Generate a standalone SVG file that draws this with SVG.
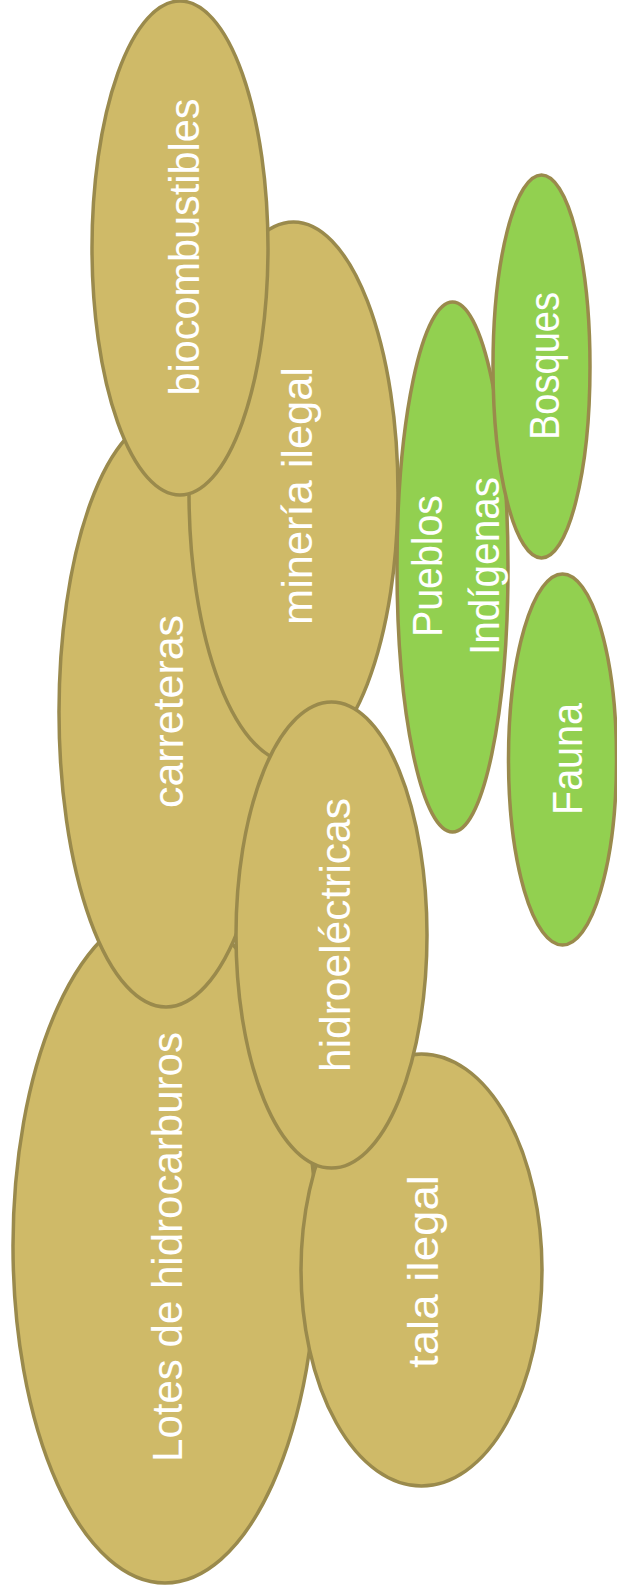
<svg xmlns="http://www.w3.org/2000/svg" width="617" height="1596" viewBox="0 0 617 1596">
<style>
.tan{fill:#CFBA68;stroke:#9A8A4C;stroke-width:3.5}
.grn{fill:#92D050;stroke:#9A8A4C;stroke-width:3.5}
.lbl{font-family:"Liberation Sans",Arial,sans-serif;font-size:42px;fill:#FFFFFF;text-anchor:middle}
</style>
<rect width="617" height="1596" fill="#FFFFFF"/>
<g id="connectors"></g>
<g id="lotes">
<ellipse class="tan" cx="165" cy="1246" rx="152" ry="337"/>
<text class="lbl" transform="translate(182,1247) rotate(-90)" textLength="430" lengthAdjust="spacingAndGlyphs">Lotes de hidrocarburos</text>
</g>
<g id="tala">
<ellipse class="tan" cx="421.5" cy="1270" rx="120.5" ry="216"/>
<text class="lbl" transform="translate(438,1271.5) rotate(-90)" textLength="193" lengthAdjust="spacingAndGlyphs">tala ilegal</text>
</g>
<g id="carreteras">
<ellipse class="tan" cx="166" cy="712" rx="107" ry="295"/>
<text class="lbl" transform="translate(183,711.5) rotate(-90)" textLength="193" lengthAdjust="spacingAndGlyphs">carreteras</text>
</g>
<g id="mineria">
<ellipse class="tan" cx="293.5" cy="492.5" rx="104.5" ry="270.5"/>
<text class="lbl" transform="translate(312,496) rotate(-90)" textLength="258" lengthAdjust="spacingAndGlyphs">minería ilegal</text>
</g>
<g id="biocombustibles">
<ellipse class="tan" cx="180" cy="248" rx="88" ry="247"/>
<text class="lbl" transform="translate(199,247) rotate(-90)" textLength="297" lengthAdjust="spacingAndGlyphs">biocombustibles</text>
</g>
<g id="hidroelectricas">
<ellipse class="tan" cx="331.5" cy="935" rx="95.5" ry="233"/>
<text class="lbl" transform="translate(350,935) rotate(-90)" textLength="274" lengthAdjust="spacingAndGlyphs">hidroeléctricas</text>
</g>
<g id="pueblos">
<ellipse class="grn" cx="452.5" cy="567" rx="55.5" ry="265"/>
<text class="lbl" transform="translate(442,566) rotate(-90)" textLength="142" lengthAdjust="spacingAndGlyphs">Pueblos</text>
<text class="lbl" transform="translate(499,566) rotate(-90)" textLength="178" lengthAdjust="spacingAndGlyphs">Indígenas</text>
</g>
<g id="bosques">
<ellipse class="grn" cx="541.5" cy="366.5" rx="48.5" ry="191.5"/>
<text class="lbl" transform="translate(559,366) rotate(-90)" textLength="148" lengthAdjust="spacingAndGlyphs">Bosques</text>
</g>
<g id="fauna">
<ellipse class="grn" cx="562.5" cy="759.5" rx="54" ry="185.5"/>
<text class="lbl" transform="translate(582,759) rotate(-90)" textLength="112" lengthAdjust="spacingAndGlyphs">Fauna</text>
</g>
</svg>
